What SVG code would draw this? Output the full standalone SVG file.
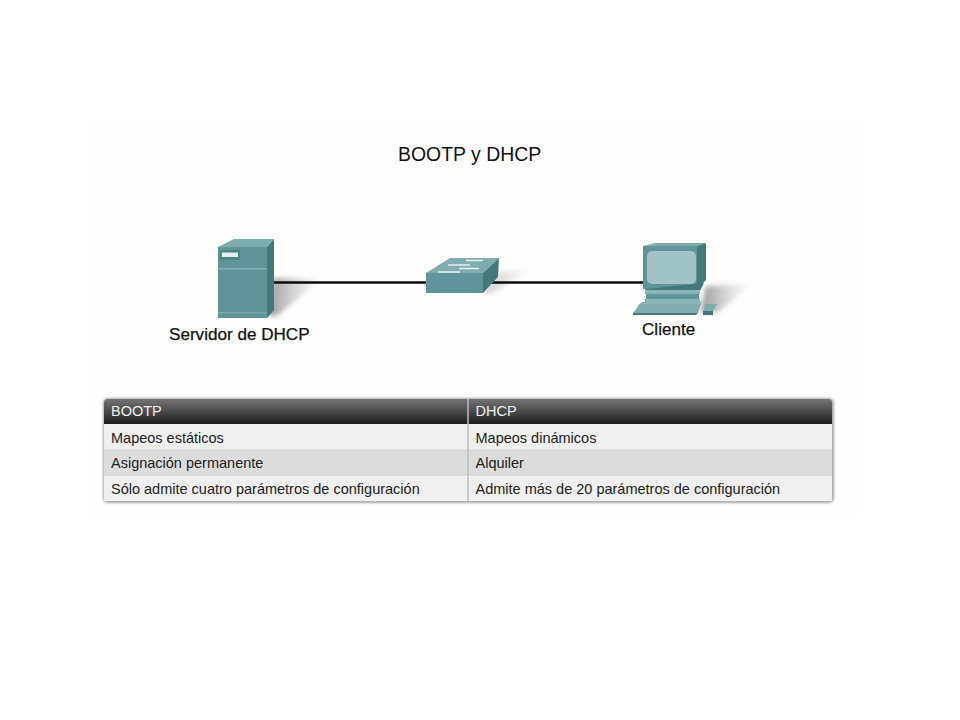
<svg xmlns="http://www.w3.org/2000/svg" width="960" height="720" viewBox="0 0 960 720">
<style>
text{font-family:"Liberation Sans",Arial,sans-serif;fill:#1a1a1a}
.lbl{font-size:17.100px;fill:#111;stroke:#111;stroke-width:.25px}
.cell{font-size:14.500px;fill:#222}
.head{font-size:14.500px;fill:#eee}
.front{fill:#5f9598}.top{fill:#7fadae}.side{fill:#44797c}.lite{fill:#8ab5b6}
</style>
<defs>
<linearGradient id="hd" x1="0" y1="0" x2="0" y2="1"><stop offset="0" stop-color="#747474"/><stop offset="0.5" stop-color="#4a4a4a"/><stop offset="1" stop-color="#1c1c1c"/></linearGradient>
<linearGradient id="sh1" x1="0" y1="0" x2="1" y2="0"><stop offset="0" stop-color="#777" stop-opacity=".75"/><stop offset="1" stop-color="#aaa" stop-opacity="0"/></linearGradient>
<filter id="b2" x="-30%" y="-30%" width="160%" height="160%"><feGaussianBlur stdDeviation="2.500"/></filter>
<filter id="b1" x="-5%" y="-5%" width="110%" height="110%"><feGaussianBlur stdDeviation="1.200"/></filter>
</defs>
<rect width="960" height="720" fill="#fff"/>
<rect x="88" y="120" width="772" height="396" fill="#fefefe"/>
<text x="398" y="161" font-size="19.450" style="fill:#111">BOOTP y DHCP</text>

<g id="shadows">
<polygon points="267,316 273,278 322,278 277,316" fill="url(#sh1)" filter="url(#b2)"/>
<polygon points="482,293 498,272 535,268 492,293" fill="url(#sh1)" opacity=".5" filter="url(#b2)"/>
<polygon points="700,312 706,286 752,284 718,312" fill="url(#sh1)" filter="url(#b2)"/>
</g>
<g id="connectors">
<line x1="272" y1="282.500" x2="428" y2="282.500" stroke="#0a0a0a" stroke-width="2.600"/>
<line x1="490" y1="282.500" x2="645" y2="282.500" stroke="#0a0a0a" stroke-width="2.600"/>
</g>

<g id="server">
<polygon class="top" points="218,247 234,239 274,239 267,247"/>
<polygon class="side" points="267,247 274,239 274,310 267,318"/>
<rect class="front" x="218" y="247" width="49" height="71"/>
<rect x="218" y="268" width="49" height="1.500" fill="#86b1b2"/>
<rect x="218" y="312" width="49" height="1.200" fill="#7fa9aa"/>
<rect x="220" y="250" width="20" height="10" fill="#4f8285"/>
<rect x="222" y="252.500" width="16" height="4.500" fill="#e4eeee"/>
<text class="lbl" x="169" y="340">Servidor de DHCP</text>
</g>

<g id="switch">
<polygon class="top" points="426,273 450,258 499,258 483,273"/>
<polygon class="front" points="426,273 483,273 483,293 426,293"/>
<polygon class="side" points="483,273 499,258 498,277 483,293"/>
<g stroke="#e6f0f0" stroke-width="1.500" fill="none">
<line x1="466" y1="260.500" x2="483" y2="260.500"/>
<line x1="448" y1="265" x2="470" y2="265"/>
<line x1="459" y1="268.500" x2="479" y2="268.500"/>
<line x1="438" y1="272" x2="460" y2="272"/>
</g>
</g>

<g id="client">
<polygon class="top" points="643,246 655,243 706,243 697,246"/>
<polygon class="side" points="697,246 706,243 706,280 697,289"/>
<rect class="front" x="643" y="246" width="54" height="43"/>
<rect x="647" y="251" width="49" height="33" rx="5" fill="#a3c4c5"/>
<polygon class="side" points="645,289 704,283 700,291 646,291"/>
<rect class="lite" x="645" y="290" width="55" height="4"/>
<rect class="front" x="646" y="294" width="53" height="6"/>
<rect class="lite" x="645" y="299" width="55" height="3"/>
<polygon class="lite" points="642,302 702,302 699,306 637,306"/>
<polygon class="top" points="640,304 701,304 698,313 633,313"/>
<polygon class="side" points="633,313 698,313 696,315 633,315"/>
<polygon class="top" points="706,304 717,304 713,311 703,311"/>
<polygon class="side" points="703,311 713,311 713,315 703,315"/>
<text class="lbl" x="642" y="335">Cliente</text>
</g>

<g id="table">
<rect x="103" y="398" width="731" height="105" rx="5" fill="#555" opacity=".5" filter="url(#b1)"/>
<rect x="104" y="424" width="728" height="26" fill="#f0f0f0"/>
<rect x="104" y="450" width="728" height="25" fill="#dcdcdc"/>
<rect x="104" y="475" width="728" height="26" fill="#f0f0f0"/>
<path d="M104 424V403a4 4 0 0 1 4-4H828a4 4 0 0 1 4 4V424Z" fill="url(#hd)"/>
<path d="M104 450H832M104 475H832" stroke="#cfcfcf" stroke-width="1"/>
<line x1="468" y1="399" x2="468" y2="501" stroke="#bcbcbc" stroke-width="1.500"/>
<text class="head" x="111" y="416">BOOTP</text>
<text class="head" x="475.500" y="416">DHCP</text>
<text class="cell" x="111" y="442.500">Mapeos estáticos</text>
<text class="cell" x="475.500" y="442.500">Mapeos dinámicos</text>
<text class="cell" x="111" y="468">Asignación permanente</text>
<text class="cell" x="475.500" y="468">Alquiler</text>
<text class="cell" x="111" y="493.500">Sólo admite cuatro parámetros de configuración</text>
<text class="cell" x="475.500" y="493.500">Admite más de 20 parámetros de configuración</text>
</g>
</svg>
